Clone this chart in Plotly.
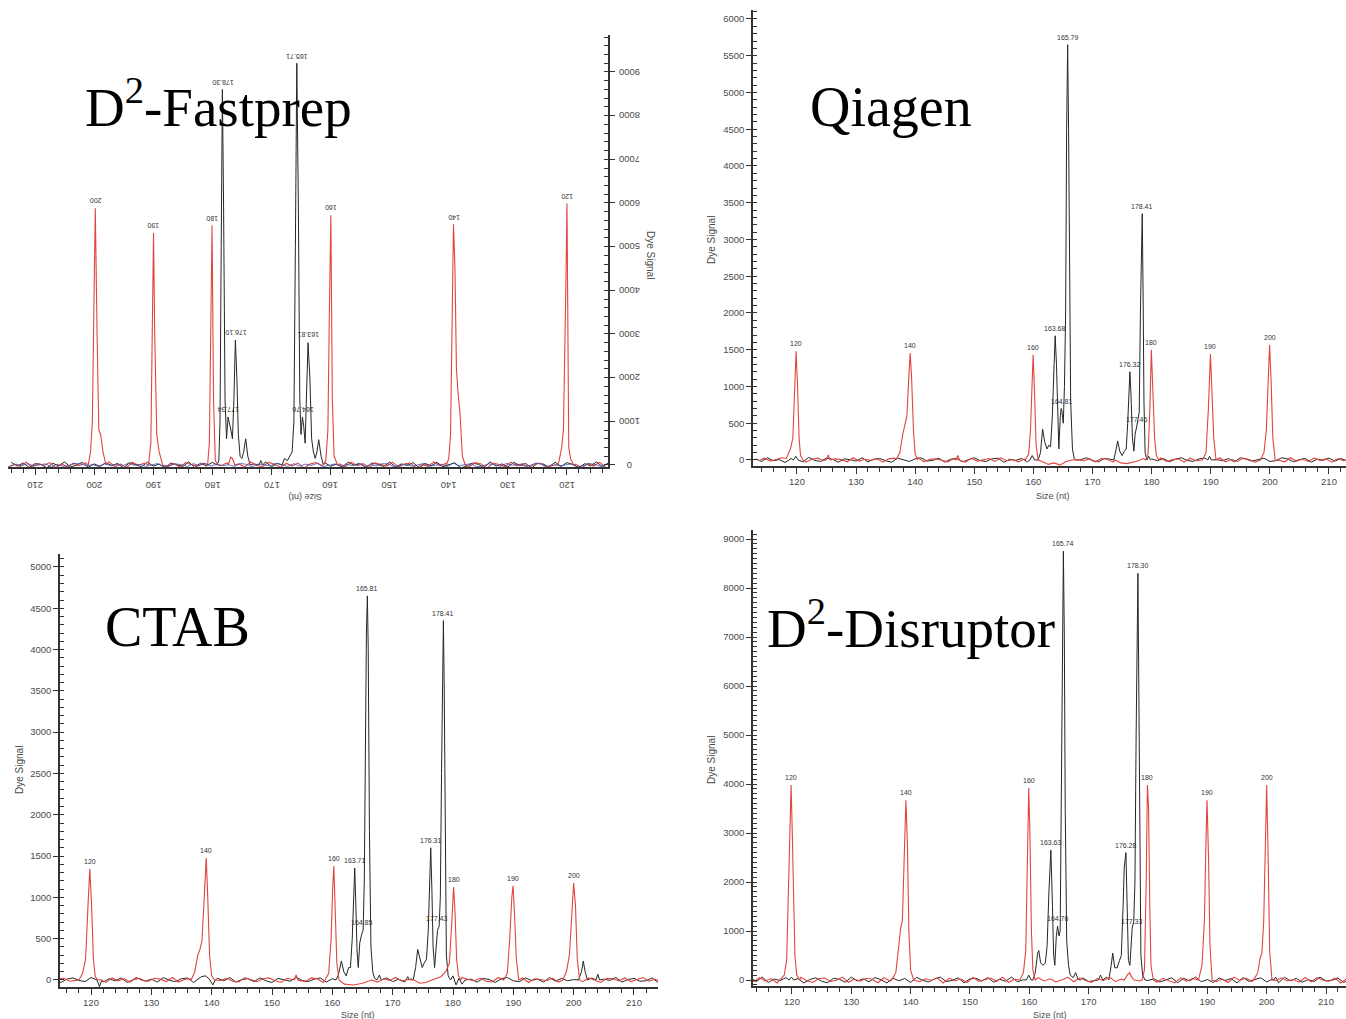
import plotly.graph_objects as go

W, H = 1346, 1019

# ---------------- sampling positions of the baseline (nt) ----------------
noise_x_black = [
    113, 114, 115, 116, 117, 118, 119, 120, 121, 122,
    123, 124, 125, 126, 127, 128, 129, 130, 131, 132,
    133, 134, 135, 136, 137, 138, 139, 140, 141, 142,
    143, 144, 145, 146, 147, 148, 149, 150, 151, 152,
    153, 154, 155, 156, 157, 158, 159, 160, 161, 162,
    163, 164, 165, 166, 167, 168, 169, 170, 171, 172,
    173, 174, 175, 176, 177, 178, 179, 180, 181, 182,
    183, 184, 185, 186, 187, 188, 189, 190, 191, 192,
    193, 194, 195, 196, 197, 198, 199, 200, 201, 202,
    203, 204, 205, 206, 207, 208, 209, 210, 211, 212,
    213, 214]
noise_x_red = [
    113.5, 114.5, 115.5, 116.5, 117.5, 118.5, 119.5, 120.5, 121.5, 122.5,
    123.5, 124.5, 125.5, 126.5, 127.5, 128.5, 129.5, 130.5, 131.5, 132.5,
    133.5, 134.5, 135.5, 136.5, 137.5, 138.5, 139.5, 140.5, 141.5, 142.5,
    143.5, 144.5, 145.5, 146.5, 147.5, 148.5, 149.5, 150.5, 151.5, 152.5,
    153.5, 154.5, 155.5, 156.5, 157.5, 158.5, 159.5, 160.5, 161.5, 162.5,
    163.5, 164.5, 165.5, 166.5, 167.5, 168.5, 169.5, 170.5, 171.5, 172.5,
    173.5, 174.5, 175.5, 176.5, 177.5, 178.5, 179.5, 180.5, 181.5, 182.5,
    183.5, 184.5, 185.5, 186.5, 187.5, 188.5, 189.5, 190.5, 191.5, 192.5,
    193.5, 194.5, 195.5, 196.5, 197.5, 198.5, 199.5, 200.5, 201.5, 202.5,
    203.5, 204.5, 205.5, 206.5, 207.5, 208.5, 209.5, 210.5, 211.5, 212.5,
    213.5, 214.5]

# ---------------- baseline noise read as small wiggles ----------------
qiagen_black_noise = [
    15, -20, 30, -10, 5, -35, 20, 10, -25, 35,
    -5, -20, 25, 10, -30, 15, 5, -15, 30, -25,
    10, 20, -10, -30, 25, 5, -20, 15, 30, -15,
    -5, 25, -30, 10, 20, -25, 5, 30, -10, -20,
    15, 25, -30, 10, -5, 20, -25, 30, 5, -15,
    10, -30, 25, 15, -20, 5, 30, -10, -25, 20,
    10, -15, 35, -20, 5, 25, -30, 15, -10, 20,
    -25, 10, 30, -5, -20, 15, 25, -30, 5, -10,
    20, -25, 30, 10, -15, 5, 25, -20, -10, 30,
    15, -25, 5, 20, -30, 10, -5, 25, -15, 20,
    -10, 15, -20, 25, -5]
qiagen_red_noise = [
    -10, 25, -15, 5, 30, -20, -5, 20, -30, 10,
    25, -10, -20, 15, 5, -25, 30, -15, 10, -5,
    20, -30, 15, 25, -10, -20, 5, 30, -25, 10,
    15, -5, -25, 20, 10, -30, 25, -15, 5, 20,
    -20, 30, -10, 5, -25, 15, 20, -30, 10, -5,
    25, -15, -20, 30, 5, -10, 15, -25, 20, 10,
    -30, 5, 25, -15, -5, 20, -25, 10, 30, -20,
    5, 15, -30, 25, -10, -5, 20, -15, 30, -25,
    10, -20, 25, 5, -30, 15, -10, 20, -5, -25,
    30, -15, 10, -20, 25, -5, 15, -30, 20, -10,
    5, -25, 15, -5, 20]
ctab_black_noise = [
    20, -15, -30, 10, 25, -5, -20, 30, 5, -25,
    15, -10, 25, -30, 5, 20, -15, 10, -25, 30,
    -5, -20, 15, 25, -30, 10, 5, -15, 20, -10,
    30, -25, 5, 15, -20, 25, -10, -30, 20, 5,
    -15, 30, -5, -20, 10, 25, -25, 15, -10, 5,
    20, -30, 30, -15, 5, -5, 25, -20, 10, -25,
    15, 5, -30, 20, -10, 30, -20, -5, 25, -15,
    10, -25, 20, 5, -30, 15, 30, -10, -20, 25,
    -5, 10, -25, 30, -15, 20, -10, 5, -30, 15,
    25, -20, 10, -5, 30, -25, 5, 20, -15, -10,
    25, -30, 15, 5, -20]
ctab_red_noise = [
    -25, 10, 20, -15, -5, 30, -20, 15, 5, -30,
    25, -10, 15, -25, 30, -5, -15, 20, 10, -20,
    30, -25, 5, 15, -10, 25, -30, 10, -5, 20,
    -15, -25, 30, 5, -20, 15, 25, -10, -30, 20,
    10, -5, -20, 25, 15, -30, 5, 20, -15, 30,
    -10, -20, 25, 10, -25, 15, -5, 30, -15, 5,
    20, -30, 10, 25, -20, -5, 15, -25, 30, 5,
    -10, 20, -15, -25, 30, 10, -5, -20, 25, -30,
    15, 5, -10, 20, -25, 30, -15, 10, -20, 25,
    -5, -30, 20, 15, -10, 25, -20, 5, 30, -15,
    10, -25, 20, -5, 15]
disruptor_black_noise = [
    40, -30, 60, -50, 20, -10, 50, -40, 30, -60,
    10, 45, -25, -55, 35, 15, -45, 60, -20, 25,
    -35, 50, 5, -60, 40, -15, 30, -50, 55, -5,
    -40, 20, 60, -30, -10, 45, -55, 25, 35, -20,
    50, -45, 15, -25, 60, -35, 5, 40, -60, 30,
    -15, 55, -40, 20, 10, -50, 45, -30, -5, 35,
    60, -25, -45, 30, 15, -60, 50, -10, 25, -40,
    5, 45, -55, 35, -20, 60, -35, 10, -50, 40,
    -10, 30, -60, 50, -25, 15, 45, -40, 20, -55,
    55, -15, 35, -45, 10, -30, 60, -20, -5, 40,
    -50, 25, -35, 45, -10]
disruptor_red_noise = [
    -40, 50, -20, 30, -60, 10, 45, -35, 55, -15,
    -50, 25, 40, -30, -5, 60, -45, 20, -25, 35,
    15, -55, 50, -20, 30, -40, 5, 60, -35, 25,
    -10, 45, -60, 35, -15, 20, -50, 55, -30, 10,
    40, -25, 60, -45, 15, -5, 30, -60, 50, -20,
    25, -40, 5, 55, -35, 45, -10, -50, 30, -15,
    60, -30, 20, -55, 40, -20, 10, 50, -45, 35,
    -5, -60, 45, -25, 30, -40, 55, 15, -35, 20,
    -50, 60, -10, 40, -30, 25, -55, 35, -15, 45,
    -20, 10, -45, 55, -35, 50, -5, -25, 40, -60,
    30, -15, 45, -40, 20]
fastprep_black_noise = [
    50, -40, 70, -20, 30, -60, 10, 55, -35, 65,
    -50, 20, 40, -70, 35, -15, 60, -45, 25, -25,
    70, -55, 15, 45, -30, -65, 50, 5, -40, 60,
    -20, 35, -70, 55, -10, 25, -50, 70, -35, 15,
    45, -60, 30, -5, 65, -45, 20, -30, 55, -15,
    -70, 40, 10, -55, 60, -25, 35, -40, 70, -50,
    25, -10, 50, -65, 30, 15, -45, 60, -20, 40,
    -55, 70, -35, 5, 45, -60, 20, -25, 65, -40,
    10, 55, -70, 35, -15, 50, -30, 25, -50, 60,
    -5, -45, 70, -20, 40, -65, 15, 30, -55, 45,
    -25, 60, -40, 20, -10]
fastprep_red_noise = [
    -45, 60, -25, 35, -65, 15, 50, -30, 70, -10,
    -55, 40, 20, -60, 30, -20, 65, -40, 10, 45,
    -70, 25, 55, -35, -5, 60, -50, 35, -15, 70,
    -30, 10, -65, 45, 20, -45, 60, -25, 5, 50,
    -60, 30, -15, 65, -40, 25, -55, 40, -5, 55,
    20, -70, 45, -20, 35, -50, 15, 60, -35, -10,
    70, -45, 25, -60, 50, -15, 30, -65, 40, -25,
    5, 55, -50, 35, -30, 65, -20, -40, 45, -5,
    60, -55, 20, -35, 70, -25, 10, -60, 50, -15,
    40, -45, 25, -65, 55, -10, 30, -50, 65, -30,
    15, -40, 45, -20, 35]
fastprep_blue_noise = [
    20, -30, 10, 35, -15, -40, 25, 5, -20, 30,
    -35, 15, 40, -10, -25, 20, -5, 35, -30, 10,
    25, -20, -40, 30, 5, -15, 40, -35, 15, -5,
    -25, 35, 10, -30, 20, -10, -40, 25, 30, -20,
    5, -35, 40, -15, 15, -30, 25, -5, -40, 35,
    -10, 20, -25, 30, -35, 10, 40, -20, -5, 25,
    -40, 15, 35, -30, 5, -15, 20, -25, 40, -10,
    30, -35, 10, 25, -20, -40, 35, 5, -30, 15,
    -5, 40, -25, 20, -15, 30, -35, 10, -20, 25,
    35, -10, -30, 15, -40, 25, 5, -20, 30, -15,
    20, -35, 10, -25, 30]

# ---------------- peaks: (size nt, dye signal) ----------------
qiagen_red_peaks = [
    [(118.2, 20), (118.9, 150), (119.3, 300), (119.6, 1000), (119.85, 1480), (120.1, 1000), (120.35, 300), (120.6, 60), (121.0, 0)],
    [(125.0, 5), (125.3, 70), (125.6, 0)],
    [(136.8, 10), (137.4, 100), (137.9, 350), (138.3, 480), (138.6, 600), (138.9, 1100), (139.15, 1455), (139.4, 1100), (139.7, 400), (140.0, 80), (140.4, 0)],
    [(146.9, 0), (147.2, 60), (147.5, 0)],
    [(158.6, 0), (159.2, 80), (159.5, 400), (159.75, 1100), (159.95, 1430), (160.2, 900), (160.45, 200), (160.8, 0), (161.5, -20), (162.5, -60), (163.5, -40), (164.5, -70), (165.5, -20), (166.5, 0)],
    [(173.8, 0), (174.8, -40), (175.8, -50), (176.8, -30), (177.8, -10), (178.6, 20), (179.0, 0), (179.4, 80), (179.7, 700), (179.95, 1500), (180.2, 1000), (180.5, 300), (180.8, 60), (181.2, 0)],
    [(188.6, 0), (189.2, 100), (189.6, 700), (189.95, 1440), (190.2, 1000), (190.5, 300), (190.9, 0)],
    [(198.4, 0), (199.0, 100), (199.4, 400), (199.75, 1200), (199.95, 1565), (200.2, 1100), (200.5, 300), (200.9, 0)],
]
qiagen_black_peaks = [
    [(119.4, 0), (119.8, 50), (120.2, 0)],
    [(159.4, 0), (159.8, 60), (160.2, 0), (160.8, 0), (161.2, 100), (161.55, 420), (161.9, 250), (162.3, 150), (162.6, 200), (162.9, 180),
     (163.2, 600), (163.5, 1300), (163.68, 1690), (163.9, 1300), (164.1, 500), (164.3, 150), (164.55, 600), (164.7, 700), (164.85, 650),
     (165.05, 500), (165.25, 1000), (165.45, 2000), (165.62, 4500), (165.79, 5650), (165.95, 4500), (166.1, 2500), (166.3, 800),
     (166.6, 150), (166.9, 20), (167.3, 0)],
    [(173.6, 0), (174.0, 150), (174.25, 260), (174.6, 120), (175.0, 60), (175.4, 120), (175.7, 150), (175.95, 500), (176.15, 1000),
     (176.32, 1200), (176.5, 900), (176.75, 300), (177.0, 120), (177.2, 350), (177.46, 450), (177.7, 550), (177.9, 650), (178.1, 2000),
     (178.25, 3100), (178.41, 3350), (178.55, 2300), (178.7, 800), (178.9, 100), (179.2, 0), (179.5, 50), (179.8, 0)],
    [(189.5, 0), (189.8, 50), (190.1, 0)],
]

ctab_red_peaks = [
    [(118.0, 0), (118.6, 80), (119.1, 250), (119.5, 900), (119.8, 1345), (120.1, 900), (120.4, 250), (120.7, 40), (121.1, 0)],
    [(136.6, 0), (137.2, 100), (137.7, 300), (138.1, 380), (138.4, 480), (138.8, 1100), (139.1, 1475), (139.35, 1000), (139.65, 300), (140.0, 50), (140.5, 0)],
    [(153.7, 0), (154.0, 60), (154.3, 0)],
    [(158.8, 0), (159.4, 80), (159.8, 500), (160.05, 1100), (160.25, 1380), (160.5, 800), (160.75, 200), (161.1, 0), (162.0, -50), (163.5, -60), (165.0, -40), (166.5, 0)],
    [(173.5, 0), (174.5, -40), (175.5, -30), (176.5, 0), (177.3, 20), (178.0, 40), (178.8, 100), (179.4, 200), (179.8, 700), (180.1, 1125), (180.35, 800), (180.6, 250), (180.9, 50), (181.3, 0)],
    [(188.4, 0), (189.0, 80), (189.4, 500), (189.75, 1000), (189.95, 1140), (190.2, 800), (190.5, 250), (190.9, 0)],
    [(198.2, 0), (198.8, 100), (199.3, 300), (199.7, 800), (200.0, 1175), (200.3, 900), (200.6, 250), (201.0, 0)],
]
ctab_black_peaks = [
    [(121.0, 0), (121.4, -80), (121.8, 0)],
    [(137.5, 0), (138.3, 40), (139.0, 50), (139.6, 10), (140.2, -60), (140.6, 0)],
    [(160.6, 0), (161.0, 60), (161.5, 230), (161.9, 100), (162.3, 50), (162.7, 150), (163.0, 150), (163.3, 500), (163.55, 1100),
     (163.71, 1355), (163.9, 900), (164.1, 350), (164.3, 150), (164.55, 450), (164.85, 550), (165.1, 600), (165.3, 1200), (165.5, 3000),
     (165.65, 4200), (165.81, 4650), (165.95, 4000), (166.15, 1800), (166.4, 400), (166.7, 100), (167.0, 20), (167.4, 0), (167.8, 60), (168.1, 0)],
    [(172.2, 0), (172.5, 40), (172.8, 0)],
    [(173.4, 0), (173.8, 150), (174.15, 370), (174.5, 250), (174.9, 150), (175.2, 200), (175.6, 250), (175.9, 600), (176.1, 1200),
     (176.31, 1600), (176.5, 1100), (176.7, 400), (176.95, 150), (177.2, 450), (177.43, 600), (177.7, 650), (177.9, 1000), (178.1, 2500),
     (178.25, 3800), (178.41, 4350), (178.55, 3500), (178.7, 1500), (178.9, 300), (179.2, 50), (179.6, 0), (180.0, 50), (180.5, -60),
     (181.0, 20), (181.5, -50), (182.0, 0)],
    [(200.8, 0), (201.3, 100), (201.6, 230), (201.9, 100), (202.3, 0)],
    [(203.7, 0), (204.0, 70), (204.3, 0)],
]

disruptor_red_peaks = [
    [(118.0, 0), (118.7, 100), (119.1, 400), (119.4, 1800), (119.6, 3200), (119.85, 3980), (120.05, 3000), (120.3, 1800), (120.5, 500), (120.8, 100), (121.3, 0)],
    [(136.8, 0), (137.5, 150), (138.0, 700), (138.3, 1050), (138.6, 1200), (138.9, 2500), (139.2, 3670), (139.45, 2800), (139.7, 1000), (140.0, 200), (140.5, 0)],
    [(158.4, 0), (159.0, 150), (159.4, 600), (159.7, 2500), (159.9, 3920), (160.1, 3000), (160.35, 1000), (160.6, 200), (161.0, 0)],
    [(176.0, 0), (176.5, 100), (176.9, 150), (177.3, 50), (177.7, 0)],
    [(179.0, 0), (179.4, 200), (179.7, 2000), (179.9, 3980), (180.1, 3500), (180.3, 1500), (180.5, 300), (180.9, 0)],
    [(188.5, 0), (189.1, 300), (189.5, 1200), (189.8, 3000), (189.95, 3670), (190.2, 2500), (190.45, 700), (190.8, 0)],
    [(197.8, 0), (198.5, 150), (198.9, 450), (199.2, 550), (199.5, 1200), (199.8, 3000), (200.0, 3980), (200.25, 2500), (200.5, 600), (200.9, 0)],
]
disruptor_black_peaks = [
    [(119.5, 0), (119.9, 60), (120.3, 0)],
    [(159.5, 0), (159.9, 100), (160.3, 0), (160.6, 0), (161.0, 150), (161.4, 550), (161.6, 600), (161.9, 350), (162.3, 300), (162.7, 350),
     (163.0, 700), (163.3, 1800), (163.63, 2650), (163.9, 1500), (164.1, 500), (164.3, 300), (164.55, 900), (164.76, 1100), (165.0, 900),
     (165.2, 1000), (165.35, 3100), (165.55, 7000), (165.74, 8750), (165.9, 7000), (166.05, 3500), (166.3, 800), (166.6, 300),
     (166.9, 100), (167.4, 50), (167.8, 150), (168.2, 20), (168.6, 0)],
    [(171.6, 0), (172.0, 100), (172.4, 0)],
    [(173.4, 0), (173.8, 300), (174.05, 550), (174.4, 250), (174.8, 250), (175.2, 400), (175.5, 500), (175.8, 1500), (176.0, 2300),
     (176.28, 2600), (176.5, 1500), (176.7, 400), (176.95, 300), (177.2, 900), (177.33, 1050), (177.6, 1200), (177.8, 2000), (178.0, 5000),
     (178.15, 7500), (178.3, 8300), (178.45, 6000), (178.6, 3000), (178.8, 500), (179.1, 100), (179.5, 0)],
    [(201.2, 0), (201.5, 60), (201.8, 0)],
]

fastprep_red_peaks = [
    [(118.9, 0), (119.4, 150), (119.7, 400), (119.85, 3000), (120.0, 5990), (120.2, 4000), (120.45, 1100), (120.6, 800), (120.9, 400), (121.4, 50), (121.7, 0)],
    [(137.2, 0), (137.7, 200), (138.1, 1200), (138.4, 1600), (138.7, 2200), (138.95, 4500), (139.2, 5510), (139.45, 3500), (139.7, 700), (140.0, 150), (140.4, 0)],
    [(158.8, 0), (159.4, 200), (159.7, 1500), (159.95, 5720), (160.2, 3500), (160.45, 800), (160.8, 100), (161.2, 0)],
    [(176.2, 0), (176.6, 150), (176.9, 180), (177.3, 0)],
    [(179.0, 0), (179.5, 100), (179.8, 1500), (180.05, 5490), (180.25, 3500), (180.5, 500), (180.8, 0)],
    [(188.4, 0), (189.0, 300), (189.4, 700), (189.75, 3000), (189.95, 5310), (190.15, 3000), (190.4, 500), (190.8, 0)],
    [(198.0, 0), (198.5, 300), (198.9, 700), (199.2, 800), (199.5, 3000), (199.8, 5880), (200.05, 3500), (200.3, 1000), (200.6, 300), (201.0, 0)],
]
fastprep_black_peaks = [
    [(161.2, 0), (161.6, 200), (162.0, 580), (162.3, 300), (162.6, 150), (162.9, 300), (163.2, 600), (163.5, 2000), (163.81, 2800),
     (164.05, 1500), (164.3, 500), (164.55, 900), (164.76, 1100), (165.0, 700), (165.2, 1500), (165.45, 6000), (165.71, 9200),
     (165.95, 5000), (166.2, 1000), (166.5, 300), (166.9, 200), (167.3, 100), (167.8, 150), (168.2, 0)],
    [(171.5, 0), (171.8, 100), (172.1, 0)],
    [(173.6, 0), (174.0, 200), (174.35, 600), (174.7, 300), (175.0, 150), (175.3, 200), (175.6, 700), (175.85, 2000), (176.1, 2860),
     (176.35, 1500), (176.6, 600), (176.85, 800), (177.1, 1000), (177.34, 1100), (177.6, 600), (177.85, 1500), (178.1, 6000),
     (178.3, 8600), (178.5, 5000), (178.7, 1000), (178.9, 100), (179.2, 0)],
]

# ---------------- peak labels ----------------
qiagen_label_x = [119.85, 139.15, 159.95, 179.95, 189.95, 199.95, 163.68, 164.81, 165.79, 176.32, 177.46, 178.41]
qiagen_label_y = [1480, 1455, 1430, 1500, 1440, 1565, 1690, 700, 5650, 1200, 450, 3350]
qiagen_label_text = ["120", "140", "160", "180", "190", "200", "163.68", "164.81", "165.79", "176.32", "177.46", "178.41"]

ctab_label_x = [119.8, 139.1, 160.25, 180.1, 189.95, 200.0, 163.71, 164.85, 165.81, 176.31, 177.43, 178.41]
ctab_label_y = [1345, 1475, 1380, 1125, 1140, 1175, 1355, 600, 4650, 1600, 650, 4350]
ctab_label_text = ["120", "140", "160", "180", "190", "200", "163.71", "164.85", "165.81", "176.31", "177.43", "178.41"]

disruptor_label_x = [119.85, 139.2, 159.9, 179.9, 189.95, 200.0, 163.63, 164.76, 165.74, 176.28, 177.33, 178.30]
disruptor_label_y = [3980, 3670, 3920, 3980, 3670, 3980, 2650, 1100, 8750, 2600, 1050, 8300]
disruptor_label_text = ["120", "140", "160", "180", "190", "200", "163.63", "164.76", "165.74", "176.28", "177.33", "178.30"]

fastprep_label_x = [120.0, 139.2, 159.95, 180.05, 189.95, 199.8, 165.71, 178.30, 176.10, 177.34, 163.81, 164.76]
fastprep_label_y = [5990, 5510, 5720, 5490, 5310, 5880, 9200, 8600, 2860, 1100, 2800, 1100]
fastprep_label_text = ["120", "140", "160", "180", "190", "200", "165.71", "178.30", "176.10", "177.34", "163.81", "164.76"]

# tick labels of the mirrored D2-Fastprep panel
fastprep_x_ticks = [210, 200, 190, 180, 170, 160, 150, 140, 130, 120]
fastprep_y_ticks = [0, 1000, 2000, 3000, 4000, 5000, 6000, 7000, 8000, 9000]

panel_titles = ["D<sup>2</sup>-Fastprep", "Qiagen", "CTAB", "D<sup>2</sup>-Disruptor"]
y_ticks_major = [1000, 500, 500, 1000]
y_ticks_minor = [200, 100, 100, 100]


# ---------------- helpers ----------------
def build(nx, ny, segments):
    pts = list(zip(nx, ny))
    for seg in segments:
        lo, hi = seg[0][0], seg[-1][0]
        pts = [p for p in pts if p[0] < lo or p[0] > hi]
        pts += list(seg)
    pts.sort(key=lambda p: p[0])
    return [p[0] for p in pts], [p[1] for p in pts]


AX = "#333333"
TXT = "#4a4a4a"
RED = "#e0453f"
BLK = "#262626"
BLUE = "#3d52b5"
SANS = "Liberation Sans, Arial, sans-serif"
SERIF = "Liberation Serif, Times New Roman, serif"
TICKFONT = dict(family=SANS, size=9.5, color=TXT)


def xcfg(px0, px1, rng, anchor, labels=True):
    return dict(domain=[px0 / W, px1 / W], range=rng, autorange=False, anchor=anchor,
                showline=True, linecolor=AX, linewidth=1.6, mirror=False,
                ticks="outside", ticklen=6, tickwidth=1.3, tickcolor=AX,
                tick0=0, dtick=10, tickfont=TICKFONT, showticklabels=labels,
                showgrid=False, zeroline=False, fixedrange=True,
                minor=dict(tick0=0, dtick=2, ticks="outside", ticklen=4, tickwidth=1, tickcolor=AX, showgrid=False))


def ycfg(py_top, py_bot, rng, anchor, major, minor, side="left", labels=True):
    return dict(domain=[1 - py_bot / H, 1 - py_top / H], range=rng, autorange=False, anchor=anchor, side=side,
                showline=True, linecolor=AX, linewidth=1.6,
                ticks="outside", ticklen=5, tickwidth=1.3, tickcolor=AX,
                tick0=0, dtick=major, tickfont=TICKFONT, showticklabels=labels,
                showgrid=False, zeroline=False, fixedrange=True,
                minor=dict(tick0=0, dtick=minor, ticks="inside", ticklen=4, tickwidth=1, tickcolor=AX, showgrid=False))


fig = go.Figure()

panels = [
    ("x", "y", fastprep_black_noise, fastprep_red_noise, fastprep_black_peaks, fastprep_red_peaks),
    ("x2", "y2", qiagen_black_noise, qiagen_red_noise, qiagen_black_peaks, qiagen_red_peaks),
    ("x3", "y3", ctab_black_noise, ctab_red_noise, ctab_black_peaks, ctab_red_peaks),
    ("x4", "y4", disruptor_black_noise, disruptor_red_noise, disruptor_black_peaks, disruptor_red_peaks),
]

for xa, ya, bn, rn, bp, rp in panels:
    bx, by = build(noise_x_black, bn, bp)
    rx, ry = build(noise_x_red, rn, rp)
    fig.add_trace(go.Scatter(x=bx, y=by, mode="lines", line=dict(color=BLK, width=1), xaxis=xa, yaxis=ya, hoverinfo="skip"))
    fig.add_trace(go.Scatter(x=rx, y=ry, mode="lines", line=dict(color=RED, width=1.1), xaxis=xa, yaxis=ya, hoverinfo="skip"))
    if xa == "x":
        fig.add_trace(go.Scatter(x=[v + 0.25 for v in noise_x_black], y=fastprep_blue_noise, mode="lines",
                                 line=dict(color=BLUE, width=0.8), xaxis=xa, yaxis=ya, hoverinfo="skip"))

annotations = []
label_sets = [
    ("x", "y", fastprep_label_x, fastprep_label_y, fastprep_label_text, 180),
    ("x2", "y2", qiagen_label_x, qiagen_label_y, qiagen_label_text, 0),
    ("x3", "y3", ctab_label_x, ctab_label_y, ctab_label_text, 0),
    ("x4", "y4", disruptor_label_x, disruptor_label_y, disruptor_label_text, 0),
]
for xa, ya, lx, ly, lt, ang in label_sets:
    for x, y, t in zip(lx, ly, lt):
        annotations.append(dict(x=x, y=y, xref=xa, yref=ya, text=t, showarrow=False, xanchor="center", yanchor="bottom",
                                yshift=2, textangle=ang, font=dict(family=SANS, size=7, color="#333")))

# upside-down tick labels of the mirrored panel
for v in fastprep_x_ticks:
    annotations.append(dict(x=v, y=1 - 486 / H, xref="x", yref="paper", text=str(v), showarrow=False,
                            xanchor="center", yanchor="middle", textangle=180, font=TICKFONT))
for v in fastprep_y_ticks:
    annotations.append(dict(x=630 / W, y=v, xref="paper", yref="y", text=str(v), showarrow=False,
                            xanchor="center", yanchor="middle", textangle=180, font=TICKFONT))

# panel titles
title_pos = [(83, 103), (808, 107), (103, 627), (765, 624)]
title_size = [55, 56, 56, 55]
for (px, py), t, s in zip(title_pos, panel_titles, title_size):
    annotations.append(dict(x=px / W, y=1 - py / H, xref="paper", yref="paper", text=t, showarrow=False,
                            xanchor="left", yanchor="middle", font=dict(family=SERIF, size=s, color="black")))

# axis titles
for px, py, ang in [(650, 255, 90), (711, 240, -90), (19, 770, -90), (711, 760, -90)]:
    annotations.append(dict(x=px / W, y=1 - py / H, xref="paper", yref="paper", text="Dye Signal", showarrow=False,
                            xanchor="center", yanchor="middle", textangle=ang, font=dict(family=SANS, size=10, color=TXT)))
for px, py, ang in [(305, 497, 180), (1053, 496, 0), (358, 1015, 0), (1050, 1015, 0)]:
    annotations.append(dict(x=px / W, y=1 - py / H, xref="paper", yref="paper", text="Size (nt)", showarrow=False,
                            xanchor="center", yanchor="middle", textangle=ang, font=dict(family=SANS, size=9, color=TXT)))

fig.update_layout(
    width=W, height=H, margin=dict(l=0, r=0, t=0, b=0),
    paper_bgcolor="white", plot_bgcolor="white", showlegend=False,
    xaxis=xcfg(8, 608, [214.57, 113.06], "y", labels=False),
    yaxis=ycfg(35, 467, [-46, 9847], "x", y_ticks_major[0], y_ticks_minor[0], side="right", labels=False),
    xaxis2=xcfg(753, 1346, [112.56, 212.88], "y2"),
    yaxis2=ycfg(10, 466, [-82, 6122], "x2", y_ticks_major[1], y_ticks_minor[1]),
    xaxis3=xcfg(60, 658, [114.86, 213.98], "y3"),
    yaxis3=ycfg(554, 987, [-85, 5157], "x3", y_ticks_major[2], y_ticks_minor[2]),
    xaxis4=xcfg(753, 1346, [113.43, 213.37], "y4"),
    yaxis4=ycfg(530, 986, [-122, 9184], "x4", y_ticks_major[3], y_ticks_minor[3]),
    annotations=annotations,
)

fig.write_html("out.html")
